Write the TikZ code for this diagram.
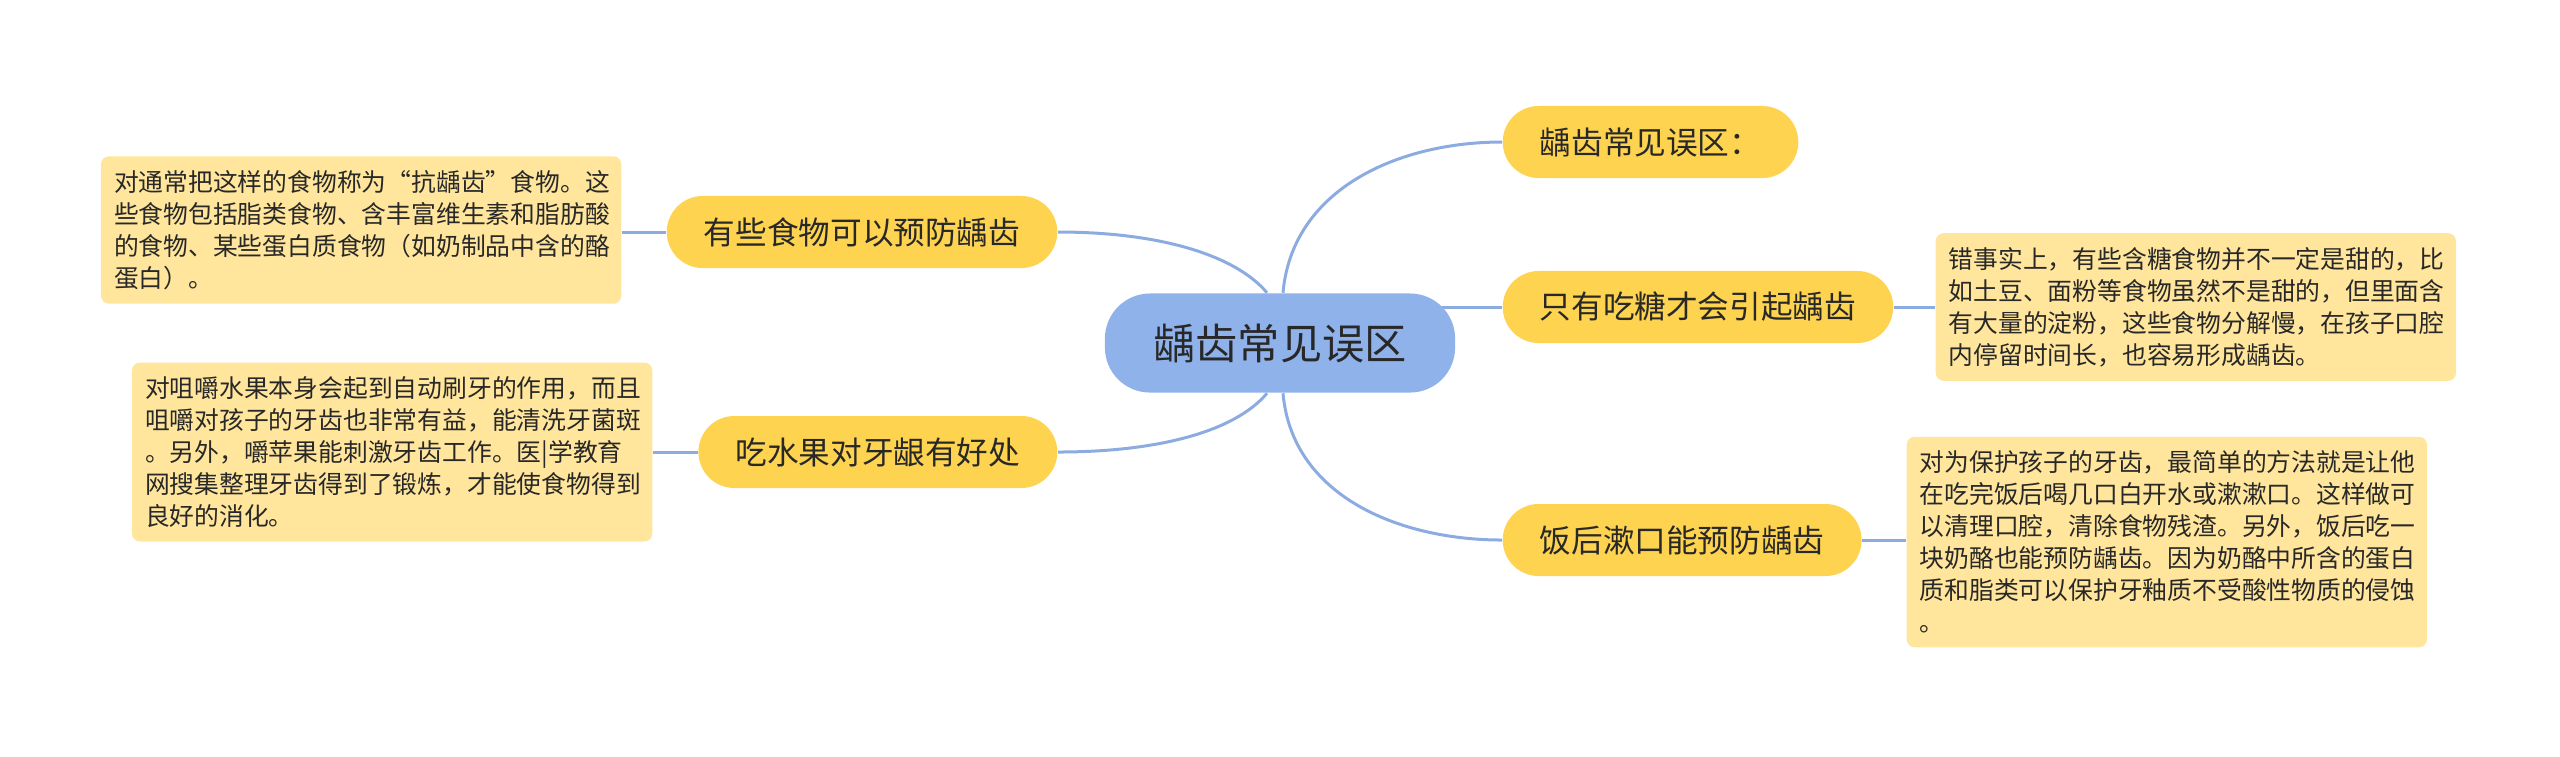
\documentclass[tikz,border=0pt]{standalone}
\usepackage{fontspec}
\setmainfont{Noto Sans CJK SC}
\usetikzlibrary{backgrounds}

\definecolor{rootblue}{RGB}{143,178,234}
\definecolor{topicyellow}{RGB}{253,211,79}
\definecolor{notecream}{RGB}{255,230,156}
\definecolor{linkblue}{RGB}{140,172,225}
\definecolor{textdark}{RGB}{40,40,40}

\begin{document}
\begin{tikzpicture}[
    x=0.01cm, y=-0.01cm,
    % Define node styles
    root/.style={fill=rootblue, text=textdark, rounded corners=0.45cm, minimum height=0.99cm, minimum width=3.5cm, font=\fontsize{12}{14}\selectfont},
    topic/.style={fill=topicyellow, text=textdark, rounded corners=0.36cm, minimum height=0.72cm, inner xsep=0.37cm, font=\fontsize{9}{11}\selectfont},
    note/.style={fill=notecream, text=textdark, rounded corners=0.08cm, text width=4.94cm, align=left, inner xsep=0.13cm, inner ysep=0.14cm, font=\fontsize{7.05}{9.1}\selectfont},
    % Define connector style
    link/.style={draw=linkblue, line width=0.03cm}
]
\useasboundingbox (0,0) rectangle (2560,756);

% Centre and topics
\node[root] (root) at (1280,343) {龋齿常见误区};
\node[topic, anchor=west] (mistake) at (1502,142) {龋齿常见误区：};
\node[topic, anchor=west] (sugar) at (1502,307) {只有吃糖才会引起龋齿};
\node[topic, anchor=west] (rinse) at (1502,540) {饭后漱口能预防龋齿};
\node[topic, anchor=east] (food) at (1058,232) {有些食物可以预防龋齿};
\node[topic, anchor=east] (fruit) at (1058,452) {吃水果对牙龈有好处};

% Notes
\node[note, anchor=east] (foodnote) at (622,230) {对通常把这样的食物称为“抗龋齿”食物。这\\些食物包括脂类食物、含丰富维生素和脂肪酸\\的食物、某些蛋白质食物（如奶制品中含的酪\\蛋白）。};
\node[note, anchor=east] (fruitnote) at (653,452) {对咀嚼水果本身会起到自动刷牙的作用，而且\\咀嚼对孩子的牙齿也非常有益，能清洗牙菌斑\\。另外，嚼苹果能刺激牙齿工作。医|学教育\\网搜集整理牙齿得到了锻炼，才能使食物得到\\良好的消化。};
\node[note, anchor=west] (sugarnote) at (1935,307) {错事实上，有些含糖食物并不一定是甜的，比\\如土豆、面粉等食物虽然不是甜的，但里面含\\有大量的淀粉，这些食物分解慢，在孩子口腔\\内停留时间长，也容易形成龋齿。};
\node[note, anchor=west] (rinsenote) at (1906,542) {对为保护孩子的牙齿，最简单的方法就是让他\\在吃完饭后喝几口白开水或漱漱口。这样做可\\以清理口腔，清除食物残渣。另外，饭后吃一\\块奶酪也能预防龋齿。因为奶酪中所含的蛋白\\质和脂类可以保护牙釉质不受酸性物质的侵蚀\\。};

% Connectors
\begin{scope}[on background layer]
    \draw[link] ([xshift=0.03cm]root.north) to[out=85, in=180] (mistake.west);
    \draw[link] (sugar.west) -- (sugar.west -| root.center);
    \draw[link] ([xshift=0.03cm]root.south) to[out=-85, in=180] (rinse.west);
    \draw[link] ([xshift=-0.13cm]root.north) .. controls +(130:0.5cm) and +(1cm,0) .. (food.east);
    \draw[link] ([xshift=-0.13cm]root.south) .. controls +(-130:0.5cm) and +(1cm,0) .. (fruit.east);
    \draw[link] (food.west) -- (foodnote.east |- food.west);
    \draw[link] (fruit.west) -- (fruitnote.east |- fruit.west);
    \draw[link] (sugar.east) -- (sugarnote.west |- sugar.east);
    \draw[link] (rinse.east) -- (rinsenote.west |- rinse.east);
\end{scope}

\end{tikzpicture}
\end{document}
